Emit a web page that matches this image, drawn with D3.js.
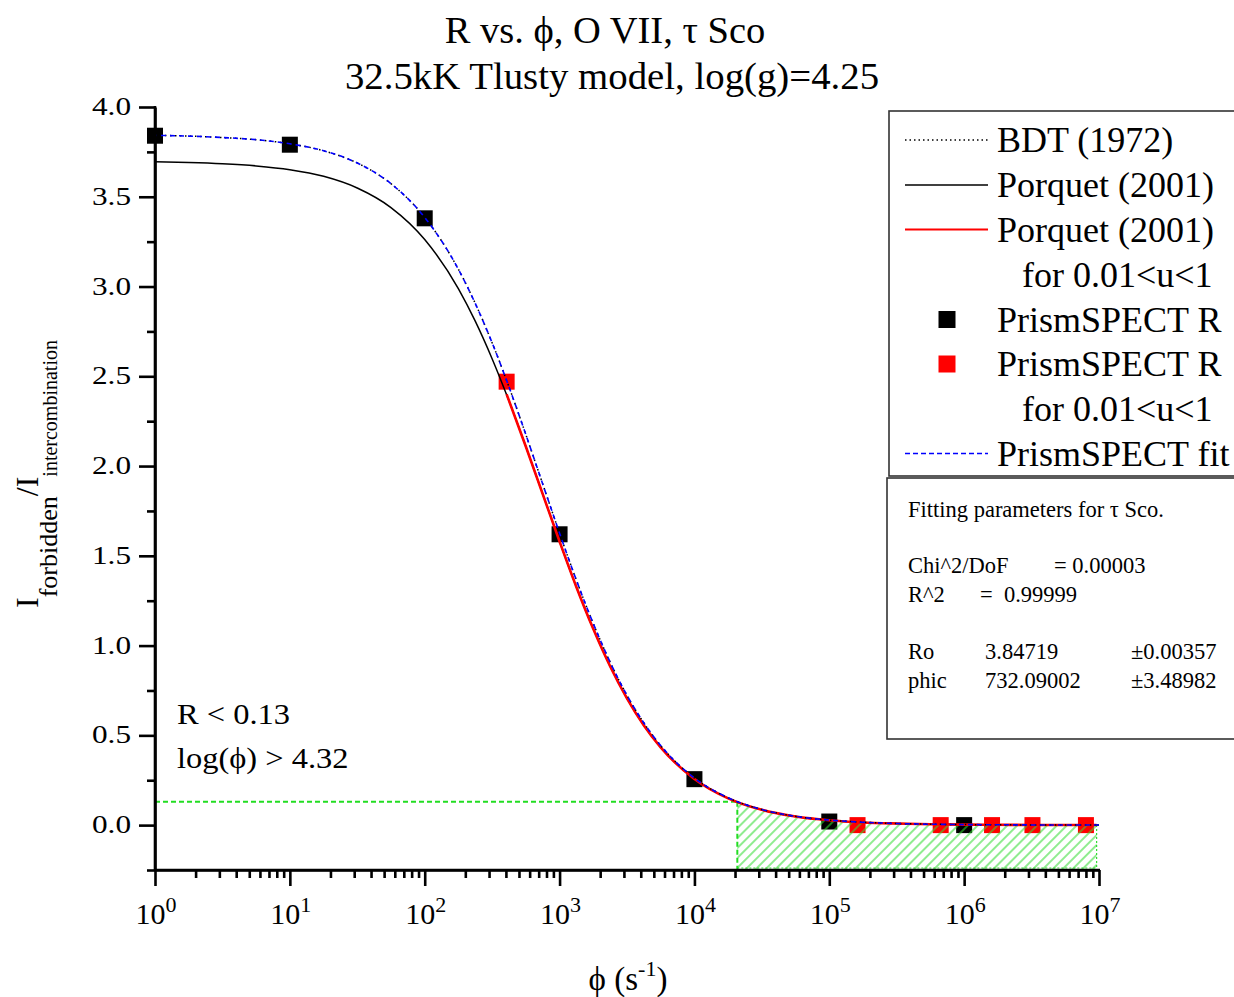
<!DOCTYPE html>
<html><head><meta charset="utf-8">
<script src="https://cdn.jsdelivr.net/npm/d3@7"></script>
<style>
body{margin:0;background:#fff}
svg{display:block}
text{font-family:"Liberation Serif","Times New Roman",serif;fill:#000}
</style>
</head><body>
<svg id="c" width="1234" height="997"></svg>
<script>
// ---- data ----
const curvePhi = [1, 1.78, 3.16, 5.62, 10, 17.8, 31.6, 56.2, 100, 178, 237, 316, 422, 562, 750,
  1000, 1330, 1780, 2370, 3160, 4220, 5620, 1e4, 1.78e4, 3.16e4, 5.62e4, 1e5, 1.78e5, 3.16e5, 5.62e5,
  1e6, 1.78e6, 3.16e6, 5.62e6, 1e7];
const fitR = [3.842, 3.838, 3.830, 3.818, 3.795, 3.756, 3.688, 3.573, 3.385, 3.095, 2.906, 2.687, 2.440, 2.176, 1.900,
  1.626, 1.366, 1.122, 0.908, 0.723, 0.569, 0.443, 0.262, 0.152, 0.087, 0.049, 0.028, 0.016, 0.009, 0.005,
  0.003, 0.002, 0.001, 0.0005, 0.0003];
const bdtR = [3.842, 3.838, 3.830, 3.818, 3.795, 3.756, 3.688, 3.573, 3.385, 3.095, 2.906, 2.687, 2.440, 2.176, 1.900,
  1.626, 1.366, 1.122, 0.908, 0.723, 0.569, 0.443, 0.262, 0.152, 0.087, 0.049, 0.028, 0.016, 0.009, 0.005,
  0.003, 0.002, 0.001, 0.0005, 0.0003];
const porquetR = [3.695, 3.691, 3.684, 3.672, 3.651, 3.614, 3.549, 3.440, 3.262, 2.987, 2.807, 2.598, 2.362, 2.109, 1.844,
  1.580, 1.328, 1.092, 0.885, 0.706, 0.555, 0.433, 0.257, 0.149, 0.085, 0.048, 0.027, 0.015, 0.009, 0.005,
  0.003, 0.002, 0.001, 0.0005, 0.0003];
const porquetUPhi = [405, 562, 750, 1000, 1330, 1780, 2370, 3160, 4220, 5620, 1e4, 1.78e4, 3.16e4, 5.62e4,
  1e5, 1.78e5, 3.16e5, 5.62e5, 1e6, 1.78e6, 3.16e6, 5.62e6, 9.6e6];
const porquetUR = [2.40, 2.109, 1.844, 1.580, 1.328, 1.092, 0.885, 0.706, 0.555, 0.433, 0.257, 0.149, 0.085, 0.048,
  0.027, 0.015, 0.009, 0.005, 0.003, 0.002, 0.001, 0.0005, 0.0003];
const prismPhi = [1, 10, 100, 1000, 1e4, 1e5, 1e6];
const prismR = [3.84, 3.79, 3.38, 1.62, 0.256, 0.02, 0.0];
const prismUPhi = [405, 1.62e5, 6.7e5, 1.61e6, 3.21e6, 8.0e6];
const prismUR = [2.47, 0.0, 0.0, 0.0, 0.0, 0.0];
const yMajorTicks = [0, 0.5, 1.0, 1.5, 2.0, 2.5, 3.0, 3.5, 4.0];
const yMinorTicks = [-0.25, 0.25, 0.75, 1.25, 1.75, 2.25, 2.75, 3.25, 3.75];
const xDecadeExps = [0, 1, 2, 3, 4, 5, 6, 7];
const thresholdR = 0.13;
const thresholdPhi = 2.08e4;
const hatchEndPhi = 9.6e6;
const legendLabels = ["BDT (1972)", "Porquet (2001)", "Porquet (2001)", "for 0.01<u<1", "PrismSPECT R", "PrismSPECT R", "for 0.01<u<1", "PrismSPECT fit"];
const fitLines = [
  ["Fitting parameters for \u03c4 Sco."],
  [],
  ["Chi^2/DoF", "", "= 0.00003"],
  ["R^2", "=\u00a0\u00a00.99999"],
  [],
  ["Ro", "3.84719", "\u00b10.00357"],
  ["phic", "732.09002", "\u00b13.48982"]
];

// ---- layout ----
const svg = d3.select("#c");
const x = d3.scaleLog().domain([1, 1e7]).range([155, 1099]);
const y = d3.scaleLinear().domain([-0.25, 4.0]).range([870, 107]);

// hatch pattern
const defs = svg.append("defs");
const pat = defs.append("pattern").attr("id", "hatch").attr("patternUnits", "userSpaceOnUse")
  .attr("width", 7).attr("height", 7).attr("patternTransform", "rotate(45)");
pat.append("line").attr("x1", 1).attr("y1", 0).attr("x2", 1).attr("y2", 7)
  .attr("stroke", "#33dd33").attr("stroke-width", 1.1);

// titles
svg.append("text").attr("x", 605).attr("y", 43).attr("text-anchor", "middle").style("font-size", "38.5px")
  .text("R vs. \u03d5, O VII, \u03c4 Sco");
svg.append("text").attr("x", 612).attr("y", 89).attr("text-anchor", "middle").style("font-size", "38.8px")
  .text("32.5kK Tlusty model, log(g)=4.25");

// markers (drawn first, lines go over them)
const ms = 16;
svg.append("g").selectAll("rect").data(prismPhi.map((p, i) => [p, prismR[i]])).join("rect")
  .attr("x", d => x(d[0]) - ms / 2).attr("y", d => y(d[1]) - ms / 2).attr("width", ms).attr("height", ms)
  .attr("fill", "#000");
svg.append("g").selectAll("rect").data(prismUPhi.map((p, i) => [p, prismUR[i]])).join("rect")
  .attr("x", d => x(d[0]) - ms / 2).attr("y", d => y(d[1]) - ms / 2).attr("width", ms).attr("height", ms)
  .attr("fill", "#ff0000");

// hatched region
const hatchPts = [[thresholdPhi, thresholdR]]
  .concat(curvePhi.map((p, i) => [p, fitR[i]]).filter(d => d[0] > thresholdPhi && d[0] < hatchEndPhi))
  .concat([[hatchEndPhi, fitR[fitR.length - 1]]]);
const area = d3.area().x(d => x(d[0])).y0(y(-0.25)).y1(d => y(d[1])).curve(d3.curveMonotoneX);
svg.append("path").attr("d", area(hatchPts)).attr("fill", "url(#hatch)");
svg.append("line").attr("x1", x(hatchEndPhi)).attr("x2", x(hatchEndPhi))
  .attr("y1", y(fitR[fitR.length - 1])).attr("y2", y(-0.25))
  .attr("stroke", "#33dd33").attr("stroke-width", 1.2).attr("stroke-dasharray", "2,2");
svg.append("line").attr("x1", x(thresholdPhi)).attr("x2", x(hatchEndPhi))
  .attr("y1", y(-0.25) - 2).attr("y2", y(-0.25) - 2)
  .attr("stroke", "#33dd33").attr("stroke-width", 1.2).attr("stroke-dasharray", "2,2");
// threshold lines
svg.append("line").attr("x1", x(1)).attr("x2", x(thresholdPhi)).attr("y1", y(thresholdR)).attr("y2", y(thresholdR))
  .attr("stroke", "#22dd22").attr("stroke-width", 2).attr("stroke-dasharray", "5,3");
svg.append("line").attr("x1", x(thresholdPhi)).attr("x2", x(thresholdPhi)).attr("y1", y(thresholdR)).attr("y2", y(-0.25))
  .attr("stroke", "#22dd22").attr("stroke-width", 2).attr("stroke-dasharray", "5,3");

// curves
const line = d3.line().x(d => x(d[0])).y(d => y(d[1])).curve(d3.curveMonotoneX);
svg.append("path").attr("d", line(curvePhi.map((p, i) => [p, porquetR[i]])))
  .attr("fill", "none").attr("stroke", "#000").attr("stroke-width", 1.5);
svg.append("path").attr("d", line(porquetUPhi.map((p, i) => [p, porquetUR[i]])))
  .attr("fill", "none").attr("stroke", "#ff0000").attr("stroke-width", 2.6);
svg.append("path").attr("d", line(curvePhi.map((p, i) => [p, bdtR[i]])))
  .attr("fill", "none").attr("stroke", "#000").attr("stroke-width", 1.5).attr("stroke-dasharray", "1.5,3.5");
svg.append("path").attr("d", line(curvePhi.map((p, i) => [p, fitR[i]])))
  .attr("fill", "none").attr("stroke", "#0000ff").attr("stroke-width", 1.6).attr("stroke-dasharray", "5,4")
  .attr("stroke-dashoffset", 3);

// axes
const axW = 2.6;
const yMaj = svg.append("g").attr("transform", "translate(155,0)")
  .call(d3.axisLeft(y).tickValues(yMajorTicks).tickSize(16).tickSizeOuter(0).tickFormat(""));
const yMin = svg.append("g").attr("transform", "translate(155,0)")
  .call(d3.axisLeft(y).tickValues(yMinorTicks).tickSize(8).tickSizeOuter(0).tickFormat(""));
const xMajorVals = xDecadeExps.map(e => Math.pow(10, e));
const xMinorVals = [];
xDecadeExps.slice(0, -1).forEach(e => { for (let k = 2; k <= 9; k++) xMinorVals.push(k * Math.pow(10, e)); });
const xMaj = svg.append("g").attr("transform", "translate(0,870)")
  .call(d3.axisBottom(x).tickValues(xMajorVals).tickSize(16).tickSizeOuter(0).tickFormat(""));
const xMin = svg.append("g").attr("transform", "translate(0,870)")
  .call(d3.axisBottom(x).tickValues(xMinorVals).tickSize(8).tickSizeOuter(0).tickFormat(""));
[yMaj, yMin, xMaj, xMin].forEach(g => {
  g.selectAll("line").attr("stroke", "#000").attr("stroke-width", axW);
  g.select(".domain").attr("stroke", "#000").attr("stroke-width", axW);
});
yMaj.select(".domain").attr("d", `M0,${y(-0.25) + 1}V${y(4.0) - 1}`);
xMaj.select(".domain").attr("d", `M${x(1) - 1},0H${x(1e7) + 1}`);

// y tick labels (stretched serif digits)
svg.append("g").selectAll("text").data(yMajorTicks).join("text")
  .attr("transform", d => `translate(131,${y(d) + 8}) scale(1.25,1)`)
  .attr("text-anchor", "end").style("font-size", "25px")
  .text(d => d.toFixed(1));

// x tick labels 10^n
const xl = svg.append("g").selectAll("text").data(xDecadeExps).join("text")
  .attr("x", d => x(Math.pow(10, d)) + 1).attr("y", 924).attr("text-anchor", "middle").style("font-size", "30px");
xl.append("tspan").text("10");
xl.append("tspan").attr("dy", -12).style("font-size", "22px").text(d => d);

// axis titles
const xt = svg.append("text").attr("x", 628).attr("y", 990).attr("text-anchor", "middle").style("font-size", "33px");
xt.append("tspan").text("\u03d5 (s");
xt.append("tspan").attr("dy", -14).style("font-size", "22px").text("-1");
xt.append("tspan").attr("dy", 14).text(")");

const yt = svg.append("text").attr("transform", "translate(38,474) rotate(-90)").attr("text-anchor", "middle")
  .style("font-size", "32px");
yt.append("tspan").text("I");
yt.append("tspan").attr("dy", 19).style("font-size", "26px").text("forbidden");
yt.append("tspan").attr("dy", -19).text("/I");
yt.append("tspan").attr("dy", 19).style("font-size", "20px").text("intercombination");

// annotation
svg.append("text").attr("transform", "translate(177,724) scale(1.12,1)").style("font-size", "29px").text("R < 0.13");
svg.append("text").attr("transform", "translate(177,768) scale(1.12,1)").style("font-size", "29px").text("log(\u03d5) > 4.32");

// legend box
svg.append("rect").attr("x", 889).attr("y", 111).attr("width", 360).attr("height", 365)
  .attr("fill", "#fff").attr("stroke", "#333").attr("stroke-width", 1.6);
const rowY = [140, 185, 229.5, 274.5, 319.5, 364, 409, 453.5];
svg.append("g").selectAll("text").data(legendLabels).join("text")
  .attr("x", (d, i) => (i === 3 || i === 6) ? 1022 : 997).attr("y", (d, i) => rowY[i] + 12)
  .style("font-size", "36px").text(d => d);
const lsym = svg.append("g");
lsym.append("line").attr("x1", 905).attr("x2", 988).attr("y1", rowY[0]).attr("y2", rowY[0])
  .attr("stroke", "#000").attr("stroke-width", 1.3).attr("stroke-dasharray", "1.5,3");
lsym.append("line").attr("x1", 905).attr("x2", 988).attr("y1", rowY[1]).attr("y2", rowY[1])
  .attr("stroke", "#000").attr("stroke-width", 1.3);
lsym.append("line").attr("x1", 905).attr("x2", 988).attr("y1", rowY[2]).attr("y2", rowY[2])
  .attr("stroke", "#ff0000").attr("stroke-width", 2);
lsym.append("rect").attr("x", 947 - 8.5).attr("y", rowY[4] - 8.5).attr("width", 17).attr("height", 17).attr("fill", "#000");
lsym.append("rect").attr("x", 947 - 8.5).attr("y", rowY[5] - 8.5).attr("width", 17).attr("height", 17).attr("fill", "#ff0000");
lsym.append("line").attr("x1", 905).attr("x2", 988).attr("y1", rowY[7]).attr("y2", rowY[7])
  .attr("stroke", "#0000ff").attr("stroke-width", 1.3).attr("stroke-dasharray", "5,3");

// fitting parameters box
svg.append("rect").attr("x", 887).attr("y", 478).attr("width", 360).attr("height", 261)
  .attr("fill", "#fff").attr("stroke", "#333").attr("stroke-width", 1.6);
const fitBase = [517, 545, 573, 602, 630, 659, 688];
const colsX = { 0: [908], 2: [908, 0, 1054], 3: [908, 980], 5: [908, 985, 1131], 6: [908, 985, 1131] };
fitLines.forEach((row, i) => {
  row.forEach((t, j) => {
    if (!t) return;
    svg.append("text").attr("x", colsX[i][j]).attr("y", fitBase[i]).style("font-size", "22.5px").text(t);
  });
});
</script>
</body></html>
